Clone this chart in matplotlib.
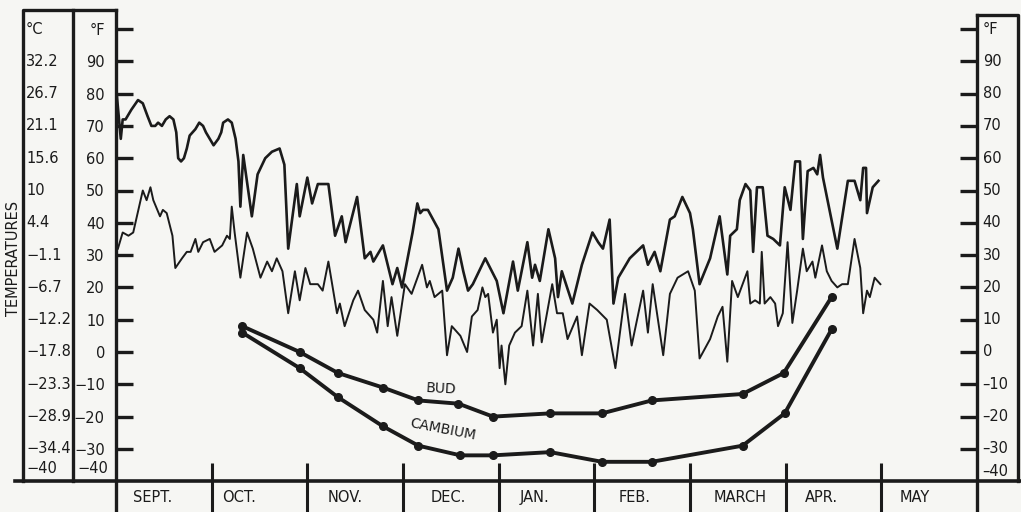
import matplotlib
matplotlib.use("Agg")
import matplotlib.pyplot as plt
from matplotlib import transforms

# ---------------- data ----------------
months = ["SEPT.", "OCT.", "NOV.", "DEC.", "JAN.", "FEB.", "MARCH", "APR.", "MAY"]

# daily maximum air temperature (°F); x in months since 1 September
max_month = [0.01, 0.05, 0.07, 0.10, 0.16, 0.23, 0.28, 0.33, 0.37, 0.41,
             0.44, 0.48, 0.52, 0.56, 0.60, 0.63, 0.65, 0.68, 0.71, 0.74,
             0.77, 0.83, 0.87, 0.91, 0.94, 0.98, 1.02, 1.07, 1.10, 1.12,
             1.17, 1.21, 1.25, 1.28, 1.30, 1.33, 1.42, 1.48, 1.56, 1.63,
             1.71, 1.76, 1.80, 1.89, 1.92, 2.00, 2.05, 2.11, 2.22, 2.29,
             2.36, 2.40, 2.52, 2.60, 2.66, 2.69, 2.79, 2.89, 2.94, 2.99,
             3.10, 3.15, 3.18, 3.21, 3.26, 3.37, 3.46, 3.52, 3.58, 3.63,
             3.68, 3.73, 3.86, 3.98, 4.05, 4.15, 4.20, 4.30, 4.35, 4.38,
             4.43, 4.52, 4.59, 4.62, 4.66, 4.77, 4.87, 4.98, 5.04, 5.09,
             5.16, 5.20, 5.25, 5.37, 5.51, 5.56, 5.63, 5.69, 5.79, 5.84,
             5.92, 6.00, 6.03, 6.10, 6.21, 6.31, 6.39, 6.42, 6.49, 6.52,
             6.58, 6.63, 6.66, 6.70, 6.76, 6.81, 6.87, 6.94, 6.99, 7.05,
             7.10, 7.15, 7.18, 7.23, 7.29, 7.33, 7.36, 7.39, 7.54, 7.65,
             7.72, 7.78, 7.81, 7.84, 7.85, 7.91, 7.97]
max_temp = [79, 66, 72, 72, 75, 78, 77, 73, 70, 70,
            71, 70, 72, 73, 72, 68, 60, 59, 60, 63,
            67, 69, 71, 70, 68, 66, 64, 66, 68, 71,
            72, 71, 66, 59, 45, 61, 42, 55, 60, 62,
            63, 58, 32, 52, 42, 54, 46, 52, 52, 36,
            42, 34, 48, 29, 31, 28, 33, 21, 26, 20,
            37, 46, 43, 44, 44, 38, 19, 23, 32, 25,
            19, 21, 29, 22, 12, 28, 19, 34, 23, 27,
            22, 38, 29, 17, 25, 15, 27, 37, 34, 32,
            41, 15, 23, 29, 33, 27, 31, 25, 41, 42,
            48, 43, 38, 21, 29, 42, 24, 36, 38, 47,
            52, 50, 31, 51, 51, 36, 35, 33, 51, 44,
            59, 59, 35, 56, 57, 55, 61, 54, 32, 53,
            53, 47, 57, 57, 43, 51, 53]

# daily minimum air temperature (°F)
min_month = [0.02, 0.07, 0.13, 0.18, 0.28, 0.32, 0.36, 0.39, 0.46, 0.49,
             0.53, 0.59, 0.62, 0.69, 0.74, 0.78, 0.83, 0.86, 0.91, 0.98,
             1.03, 1.11, 1.16, 1.19, 1.21, 1.24, 1.30, 1.37, 1.43, 1.51,
             1.58, 1.63, 1.68, 1.74, 1.80, 1.87, 1.92, 1.98, 2.03, 2.11,
             2.16, 2.22, 2.31, 2.34, 2.39, 2.48, 2.53, 2.60, 2.69, 2.73,
             2.79, 2.84, 2.88, 2.94, 3.02, 3.09, 3.20, 3.25, 3.28, 3.33,
             3.41, 3.46, 3.51, 3.60, 3.67, 3.72, 3.78, 3.83, 3.86, 3.89,
             3.94, 3.98, 4.01, 4.03, 4.07, 4.11, 4.17, 4.24, 4.30, 4.36,
             4.41, 4.45, 4.56, 4.61, 4.67, 4.72, 4.82, 4.87, 4.95, 5.03,
             5.13, 5.22, 5.32, 5.39, 5.51, 5.56, 5.61, 5.72, 5.79, 5.87,
             5.98, 6.05, 6.10, 6.21, 6.29, 6.34, 6.39, 6.44, 6.50, 6.60,
             6.63, 6.68, 6.73, 6.75, 6.78, 6.84, 6.89, 6.92, 6.97, 7.02,
             7.07, 7.12, 7.18, 7.22, 7.28, 7.31, 7.38, 7.43, 7.48, 7.54,
             7.59, 7.65, 7.72, 7.78, 7.81, 7.85, 7.88, 7.93, 7.99]
min_temp = [32, 37, 36, 37, 50, 47, 51, 47, 42, 44,
            43, 36, 26, 29, 31, 31, 35, 31, 34, 35,
            31, 33, 36, 35, 45, 37, 23, 37, 32, 23,
            28, 25, 29, 25, 12, 25, 16, 26, 21, 21,
            19, 28, 12, 15, 8, 16, 19, 13, 10, 6,
            22, 8, 17, 5, 21, 18, 27, 20, 22, 17,
            19, -1, 8, 5, 0, 11, 13, 20, 17, 18,
            6, 10, -5, 2, -10, 2, 6, 8, 19, 2,
            18, 3, 21, 12, 12, 4, 11, -1, 15, 13,
            10, -5, 18, 2, 19, 6, 21, -1, 18, 23,
            25, 19, -2, 4, 11, 14, -3, 22, 17, 25,
            15, 16, 15, 31, 15, 17, 15, 8, 12, 34,
            9, 19, 32, 25, 28, 23, 33, 25, 22, 20,
            21, 21, 35, 26, 12, 19, 17, 23, 21]

# killing temperatures of bud and cambium (°F)
bud_month = [1.32, 1.92, 2.32, 2.79, 3.16, 3.58, 3.94, 4.54, 5.08, 5.60, 6.55, 6.98, 7.48]
bud_temp = [8, 0, -6.5, -11, -15, -16, -20, -19, -19, -15, -13, -6.5, 17]
cambium_month = [1.32, 1.92, 2.32, 2.79, 3.16, 3.60, 3.94, 4.54, 5.08, 5.60, 6.55, 6.99, 7.48]
cambium_temp = [6, -5, -14, -23, -29, -32, -32, -31, -34, -34, -29, -19, 7]

# axis scales
f_ticks = [100, 90, 80, 70, 60, 50, 40, 30, 20, 10, 0, -10, -20, -30]
f_labels = ["°F", "90", "80", "70", "60", "50", "40", "30", "20", "10", "0",
            "\u221210", "\u221220", "\u221230"]
f_labels_right = ["°F", "90", "80", "70", "60", "50", "40", "30", "20", "10", "0",
                  "\u201310", "\u201320", "\u201330"]
c_labels = ["°C", "32.2", "26.7", "21.1", "15.6", "10", "4.4", "\u22121.1", "\u22126.7",
            "\u221212.2", "\u221217.8", "\u221223.3", "\u221228.9", "\u221234.4"]

# ---------------- style ----------------
W, H = 1021, 512
PAPER = "#f6f6f3"
INK = "#1b1b1b"
plt.rcParams["font.family"] = ["DejaVu Sans"]

# vertical scale: 0 °F at pixel row 352, 3.23 px per °F
F_TOP = (352 - 10) / 3.23
F_BOT = (352 - 512) / 3.23

fig = plt.figure(figsize=(W / 100, H / 100), dpi=100)
fig.patch.set_facecolor(PAPER)

ax = fig.add_axes([116 / W, 0, 861 / W, 502 / H])
ax.patch.set_alpha(0)
ax.set_xlim(0, 9)
ax.set_ylim(F_BOT, F_TOP)

for s in ("top", "bottom"):
    ax.spines[s].set_visible(False)
for s in ("left", "right"):
    ax.spines[s].set_linewidth(2.4)
    ax.spines[s].set_color(INK)
ax.spines["right"].set_bounds(F_BOT, (352 - 15) / 3.23)

ax.set_xticks([])
ax.set_yticks(f_ticks)
ax.set_yticklabels(f_labels)
ax.tick_params(axis="y", direction="in", length=12, width=2.4, color=INK,
               labelsize=10.5, labelcolor=INK, pad=8,
               left=True, right=True, labelleft=True, labelright=False)

# right-hand Fahrenheit labels inside the narrow box
for f, lab in zip(f_ticks, f_labels_right):
    ax.text(9.06, f, lab, fontsize=10.5, color=INK, ha="left", va="center",
            clip_on=False)

# temperature traces
ax.plot(max_month, max_temp, color=INK, lw=1.9, solid_joinstyle="round")
ax.plot(min_month, min_temp, color=INK, lw=1.4, solid_joinstyle="round")

# killing-temperature curves
ax.plot(bud_month, bud_temp, color=INK, lw=2.8, marker="o", ms=5.5)
ax.plot(cambium_month, cambium_temp, color=INK, lw=2.8, marker="o", ms=5.5)
ax.text(3.40, -11.5, "BUD", fontsize=10, color=INK, ha="center", va="center", rotation=-3)
ax.text(3.42, -24.0, "CAMBIUM", fontsize=10, color=INK, ha="center", va="center", rotation=-11)

# month dividers and names
ax.vlines(range(1, 9), F_BOT, -34.4, color=INK, lw=2.2, clip_on=False)
label_pos = [0.38, 1.29, 2.40, 3.47, 4.38, 5.42, 6.52, 7.37, 8.35]
for name, xm in zip(months, label_pos):
    ax.text(xm, -45, name, fontsize=10.5, color=INK, ha="center", va="center")

# "-40" labels just above the base line
ax.text(-0.08, -36, "\u221240", fontsize=10.5, color=INK, ha="right", va="center")
ax.text(9.05, -37, "\u201340", fontsize=10.5, color=INK, ha="left", va="center")

# ---------------- frame (pixel overlay) ----------------
ov = fig.add_axes([0, 0, 1, 1])
ov.set_xlim(0, W)
ov.set_ylim(H, 0)
ov.axis("off")
ov.patch.set_alpha(0)

lw_box = 2.4
ov.plot([23, 23, 116], [481, 10, 10], color=INK, lw=lw_box, solid_capstyle="projecting")
ov.plot([73, 73], [10, 481], color=INK, lw=lw_box)
ov.plot([977, 1018, 1018], [15, 15, 481], color=INK, lw=lw_box, solid_capstyle="projecting")
ov.plot([15, W], [481, 481], color=INK, lw=2.6)

# Celsius column, aligned on the Fahrenheit scale
ctrans = transforms.blended_transform_factory(ov.transData, ax.transData)
for f, lab in zip(f_ticks, c_labels):
    ov.text(26, f, lab, transform=ctrans, fontsize=10.5, color=INK,
            ha="left", va="center")
ov.text(26, -36, "\u221240", transform=ctrans, fontsize=10.5, color=INK,
        ha="left", va="center")

ov.text(14, 258, "TEMPERATURES", rotation=90, fontsize=10.5, color=INK,
        ha="center", va="center")

fig.savefig("out.png", dpi=100, facecolor=PAPER)
